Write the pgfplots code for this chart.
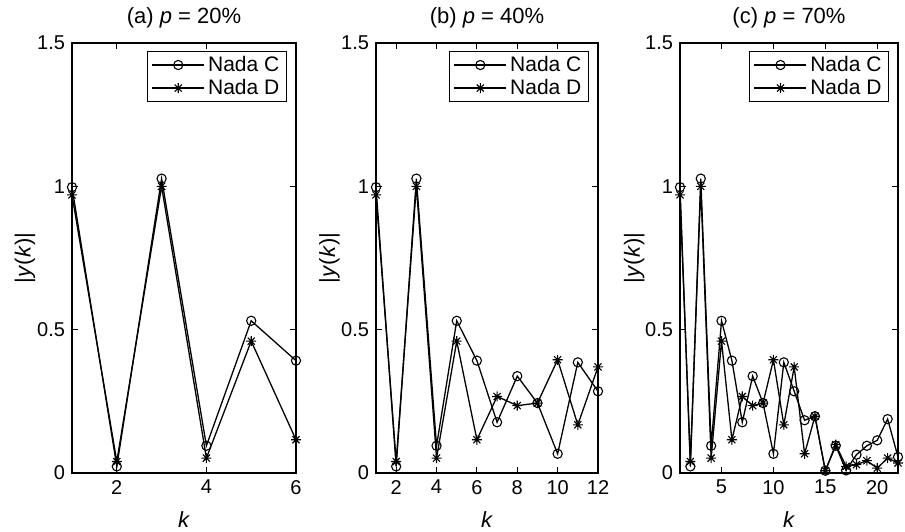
\documentclass[border=0pt]{standalone}
\usepackage{pgfplots}
\usepackage{pgfplotstable}
\pgfplotsset{compat=1.18}
\usepackage{fontspec}
\setmainfont{Liberation Sans}

\pgfdeclareplotmark{mstar}{%
  \pgfpathmoveto{\pgfqpoint{0pt}{\pgfplotmarksize}}\pgfpathlineto{\pgfqpoint{0pt}{-\pgfplotmarksize}}%
  \pgfpathmoveto{\pgfqpoint{\pgfplotmarksize}{0pt}}\pgfpathlineto{\pgfqpoint{-\pgfplotmarksize}{0pt}}%
  \pgfpathmoveto{\pgfqpoint{.707\pgfplotmarksize}{.707\pgfplotmarksize}}\pgfpathlineto{\pgfqpoint{-.707\pgfplotmarksize}{-.707\pgfplotmarksize}}%
  \pgfpathmoveto{\pgfqpoint{.707\pgfplotmarksize}{-.707\pgfplotmarksize}}\pgfpathlineto{\pgfqpoint{-.707\pgfplotmarksize}{.707\pgfplotmarksize}}%
  \pgfusepathqstroke}

\pgfplotstableread{
k C D
1 0.997 0.970
2 0.023 0.040
3 1.027 1.000
4 0.095 0.052
5 0.531 0.460
6 0.392 0.116
7 0.177 0.267
8 0.338 0.235
9 0.244 0.244
10 0.067 0.395
11 0.386 0.168
12 0.285 0.370
13 0.184 0.067
14 0.198 0.198
15 0.008 0.008
16 0.095 0.099
17 0.009 0.023
18 0.064 0.029
19 0.095 0.043
20 0.114 0.017
21 0.188 0.052
22 0.056 0.035
}\datatab

\pgfplotsset{
  panel/.style={
    scale only axis, height=215pt,
    ymin=0, ymax=1.5, ytick={0,0.5,1,1.5}, yticklabels={0,0.5,1,1.5},
    xmin=1,
    tick align=inside, major tick length=3pt,
    axis line style={line width=0.55pt},
    every tick/.style={black, line width=0.5pt},
    /pgf/number format/assume math mode=true,
    tick label style={font=\fontsize{10}{11}\selectfont},
    xlabel={\textit{k}}, ylabel={|\textit{y}(\textit{k})|},
    every axis x label/.style={at={(axis description cs:0.5,0)}, anchor=center, yshift=-23.5pt, font=\fontsize{11}{12}\selectfont},
    every axis y label/.style={at={(axis description cs:-0.21,0.5)}, anchor=center, rotate=90, font=\fontsize{11}{12}\selectfont},
    every axis title/.style={at={(axis description cs:0.5,1)}, anchor=center, yshift=12.5pt, font=\fontsize{11}{12}\selectfont},
    legend style={at={(0.96,0.981)}, anchor=north east, draw=black, line width=0.55pt,
      font=\fontsize{10.5}{11.5}\selectfont, inner xsep=2pt, inner ysep=0.5pt, row sep=-0.8pt,
      nodes={inner sep=1.6pt}},
    legend cell align=left,
    legend image code/.code={\draw[mark repeat=2,mark phase=2,##1,line width=0.65pt] plot coordinates {(0pt,0pt)(13pt,0pt)(26pt,0pt)};},
  },
  sC/.style={black, line width=0.65pt, mark=o, mark size=2.3pt, mark options={solid, line width=0.55pt}},
  sD/.style={black, line width=0.65pt, mark=mstar, mark size=2.5pt, mark options={solid, line width=0.55pt}},
}

\begin{document}
\begin{tikzpicture}
\path[use as bounding box] (0,0) rectangle (452.5pt,265.5pt);

\begin{axis}[panel, at={(36pt,29pt)}, anchor=south west, width=112pt,
  xmax=6, xtick={2,4,6}, title={(a) \textit{p} = 20\%}]
\addplot[sC, restrict x to domain=1:6] table[x=k, y=C] {\datatab};
\addlegendentry{Nada C}
\addplot[sD, restrict x to domain=1:6] table[x=k, y=D] {\datatab};
\addlegendentry{Nada D}
\end{axis}

\begin{axis}[panel, at={(188pt,29pt)}, anchor=south west, width=111pt,
  xmax=12, xtick={2,4,...,12}, title={(b) \textit{p} = 40\%}]
\addplot[sC, restrict x to domain=1:12] table[x=k, y=C] {\datatab};
\addlegendentry{Nada C}
\addplot[sD, restrict x to domain=1:12] table[x=k, y=D] {\datatab};
\addlegendentry{Nada D}
\end{axis}

\begin{axis}[panel, at={(340pt,29pt)}, anchor=south west, width=109pt,
  xmax=22, xtick={5,10,15,20}, title={(c) \textit{p} = 70\%}]
\addplot[sC] table[x=k, y=C] {\datatab};
\addlegendentry{Nada C}
\addplot[sD] table[x=k, y=D] {\datatab};
\addlegendentry{Nada D}
\end{axis}
\end{tikzpicture}
\end{document}
